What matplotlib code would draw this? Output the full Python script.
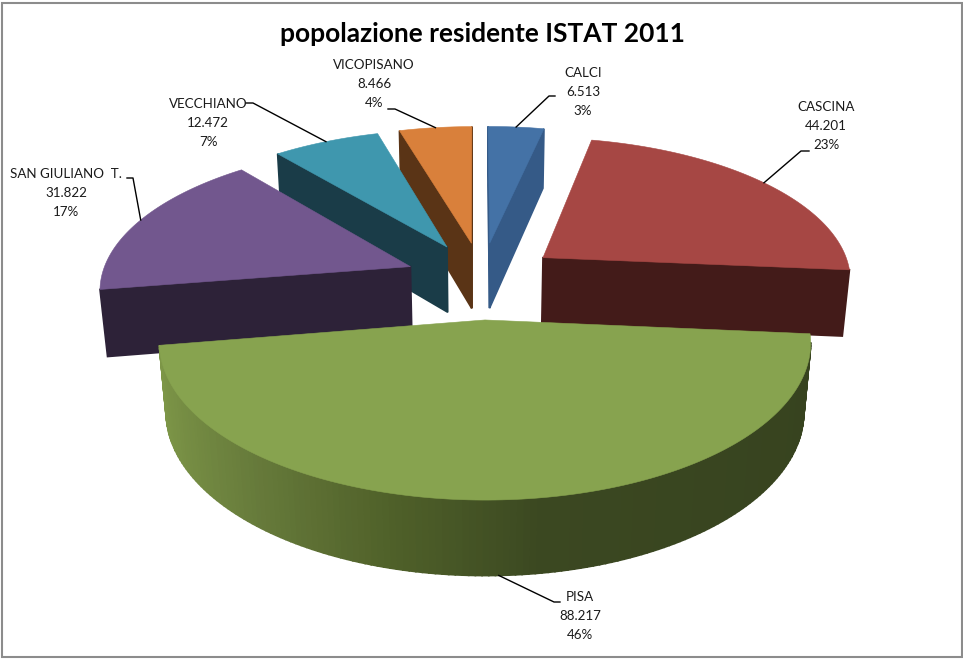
#Exploded 3D pie of resident population, projected by hand since matplotlib has no 3D pie
import numpy as np
import matplotlib.pyplot as plt
from matplotlib.colors import LinearSegmentedColormap
from matplotlib.patches import Polygon, Rectangle

plt.rcParams['font.family'] = ['Lato', 'DejaVu Sans']

#Data
comuni = ['CALCI', 'CASCINA', 'PISA', 'SAN GIULIANO  T.', 'VECCHIANO', 'VICOPISANO']
residenti = [6513, 44201, 88217, 31822, 12472, 8466]

#Colours, top face and side face
top_colours = ['#4472a6', '#a64744', '#87a34f', '#72578e', '#3f97ae', '#d9803b']
side_colours = ['#355a87', '#431b19', '#3f4c24', '#2d2238', '#1a3c48', '#5a3416']

#Label centres and leader elbows
label_pos = [(583, 92), (826, 126), (580, 616), (66, 193), (208, 123), (374, 84)]
elbows = [[(549, 96), (555, 96)], [(801, 151), (809, 151)], [(554, 602), (560, 602)],
          [(133, 178), (127, 178)], [(253, 103), (246, 103)], [(395, 109), (388, 109)]]

#Projection settings
cx, cy = 482, 280
scale_x, scale_y = 310, 142.5
persp = 0.14
persp_low = 0.02
thick = 68
explode_u = 0.25
explode_v = 0.27

def project(u, v, low=False):
    w = 1 + persp*v + (persp_low if low else 0)
    x = cx + scale_x*u/w
    y = cy + (-scale_y*v + (thick if low else 0))/w
    return np.column_stack([x, y])

def rim(a, off_u, off_v, low=False):
    return project(np.sin(a) + off_u, np.cos(a) + off_v, low)

def quad(ax, top_a, top_b, low_b, low_a, colour, z):
    ax.add_patch(Polygon([top_a, top_b, low_b, low_a], closed=True, fc=colour, ec=colour, lw=1.2, zorder=z))

fig = plt.figure(figsize=(9.63, 6.59), dpi=100)
ax = fig.add_axes([0, 0, 1, 1])
ax.set_xlim(0, 963)
ax.set_ylim(659, 0)
ax.axis('off')

ax.add_patch(Rectangle((1.5, 2.5), 960, 654, fc='white', ec='#8c8c8c', lw=1.5, zorder=0))

vals = np.array(residenti, dtype=float)
total = vals.sum()
edges = np.concatenate([[0], np.cumsum(vals)])/total*2*np.pi - 0.003
mids = (edges[:-1] + edges[1:])/2

#Dark right end to lighter left end of the round wall
wall_cmap = LinearSegmentedColormap.from_list('wall', [(0, '#37431f'), (0.42, '#3b4821'), (0.62, '#4f6029'), (0.82, '#677b3b'), (1, '#7e9748')])

#Far slices are painted first
order = np.argsort(-np.cos(mids))
for n, i in enumerate(order):
    z = 1 + n
    off_u = explode_u*np.sin(mids[i])
    off_v = explode_v*np.cos(mids[i])
    a = np.linspace(edges[i], edges[i+1], 160)

    top = rim(a, off_u, off_v)
    low = rim(a, off_u, off_v, True)
    apex = project(np.array([off_u]), np.array([off_v]))[0]
    apex_low = project(np.array([off_u]), np.array([off_v]), True)[0]

    #Cut faces, only the ones turned to the viewer
    first = top[0] - apex
    last = top[-1] - apex
    down = apex_low - apex
    if first[0]*down[1] - first[1]*down[0] < 0:
        quad(ax, apex, top[0], low[0], apex_low, side_colours[i], z)
    if last[0]*down[1] - last[1]*down[0] > 0:
        quad(ax, apex, top[-1], low[-1], apex_low, side_colours[i], z)

    #Round wall, shaded piece by piece on the big slice
    for k in range(len(a) - 1):
        if top[k+1, 0] < top[k, 0]:
            if comuni[i] == 'PISA':
                t = (np.sin(a[k]) + 1)/2
                colour = wall_cmap(1 - t)
            else:
                colour = side_colours[i]
            quad(ax, top[k], top[k+1], low[k+1], low[k], colour, z)

    ax.add_patch(Polygon(np.vstack([apex, top]), closed=True, fc=top_colours[i], ec=top_colours[i], lw=0.4, zorder=z + 0.5))

#Leaders and labels
for i in range(len(comuni)):
    off_u = explode_u*np.sin(mids[i])
    off_v = explode_v*np.cos(mids[i])
    start = rim(np.array([mids[i]]), off_u, off_v, np.cos(mids[i]) < -0.5)[0]
    xs = [start[0]] + [p[0] for p in elbows[i]]
    ys = [start[1]] + [p[1] for p in elbows[i]]
    ax.plot(xs, ys, color='black', lw=1, zorder=20)
    numero = f'{residenti[i]:,}'.replace(',', '.')
    perc = f'{round(residenti[i]/total*100)}%'
    ax.text(label_pos[i][0], label_pos[i][1], comuni[i] + '\n' + numero + '\n' + perc,
            ha='center', va='center', fontsize=9.6, linespacing=1.72, color='#1a1a1a', zorder=21)

ax.text(482, 34, 'popolazione residente ISTAT 2011', ha='center', va='center',
        fontsize=19, fontweight='bold', color='black')

fig.savefig('out.png', dpi=100)
